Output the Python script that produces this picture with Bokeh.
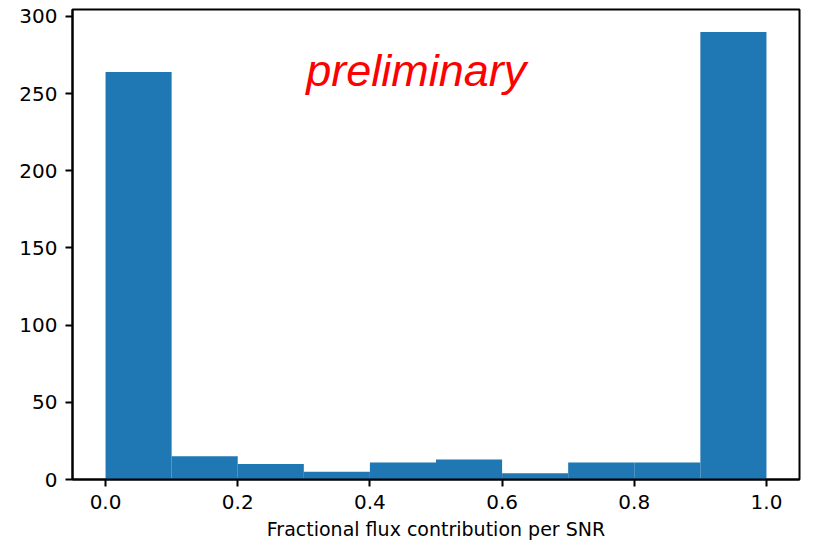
from bokeh.plotting import figure
from bokeh.models import Range1d, FixedTicker, Label
from bokeh.embed import file_html
from bokeh.resources import INLINE

# Data
bin_edges = [0.0, 0.1, 0.2, 0.3, 0.4, 0.5, 0.6, 0.7, 0.8, 0.9, 1.0]
counts = [264, 15, 10, 5, 11, 13, 4, 11, 11, 290]
x_ticks = [0.0, 0.2, 0.4, 0.6, 0.8, 1.0]
x_tick_labels = ["0.0", "0.2", "0.4", "0.6", "0.8", "1.0"]
y_ticks = [0, 50, 100, 150, 200, 250, 300]
x_label = "Fractional flux contribution per SNR"
note_text = "preliminary"

p = figure(width=801, height=542, output_backend="svg", toolbar_location=None,
           x_range=Range1d(-0.05, 1.05), y_range=Range1d(0, 304.5),
           min_border_left=72, min_border_right=2, min_border_top=9, min_border_bottom=62)

p.quad(left=bin_edges[:-1], right=bin_edges[1:], bottom=0, top=counts,
       fill_color="#1f77b4", line_color=None)

p.xgrid.visible = False
p.ygrid.visible = False
p.outline_line_color = "black"
p.outline_line_width = 2
p.outline_line_alpha = 1.0
p.background_fill_color = "white"
p.border_fill_color = "white"

p.xaxis.ticker = FixedTicker(ticks=x_ticks)
p.xaxis.major_label_overrides = {t: l for t, l in zip(x_ticks, x_tick_labels)}
p.yaxis.ticker = FixedTicker(ticks=y_ticks)
p.xaxis.axis_label = x_label

for ax in (p.xaxis[0], p.yaxis[0]):
    ax.axis_line_color = "black"
    ax.axis_line_width = 2
    ax.major_tick_line_color = "black"
    ax.major_tick_line_width = 2
    ax.major_tick_out = 7
    ax.major_tick_in = 0
    ax.minor_tick_line_color = None
    ax.major_label_text_font = "DejaVu Sans"
    ax.major_label_text_font_size = "20px"
    ax.major_label_text_color = "black"
    ax.major_label_standoff = 8
    ax.axis_label_text_font = "DejaVu Sans"
    ax.axis_label_text_font_size = "19px"
    ax.axis_label_text_font_style = "normal"
    ax.axis_label_text_color = "black"
    ax.axis_label_standoff = 6

label = Label(x=0.47, y=265, text=note_text, text_color="red",
              text_font="Liberation Sans", text_font_style="italic",
              text_font_size="45px", text_align="center", text_baseline="alphabetic")
p.add_layout(label)

open("out.html", "w").write(file_html(p, INLINE))
